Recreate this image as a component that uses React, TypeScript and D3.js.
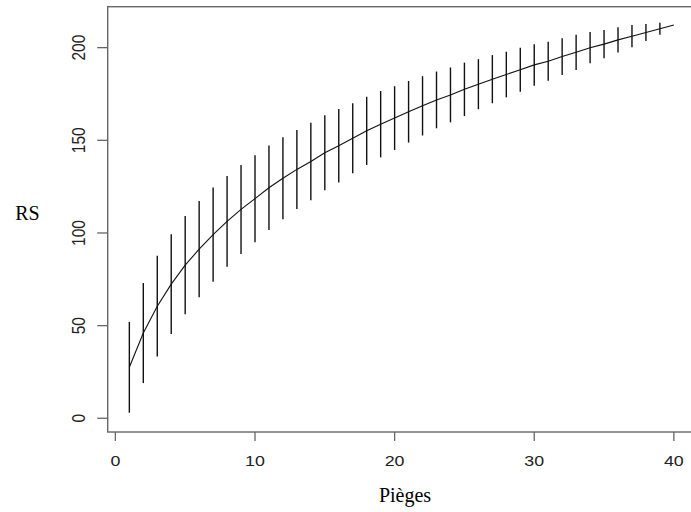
import React from "react";
import * as d3 from "d3";

const traps: number[] = Array.from({ length: 40 }, (_, i) => i + 1);
const richness: number[] = [
  27.5, 46, 60.5, 72.4, 82.6, 91.3, 99.1, 106.3, 112.7, 118.5,
  124.4, 129.5, 134.3, 138.6, 143.3, 147.1, 151.1, 155.1, 158.7, 162,
  165.4, 168.6, 171.8, 174.5, 177.5, 180.3, 183, 185.5, 188.1, 190.7,
  192.7, 195.2, 197.5, 200, 201.9, 204.2, 206.2, 208.2, 210.2, 212.2,
];
const spread: number[] = [
  24.5, 27, 27.2, 26.9, 26.5, 26, 25.4, 24.5, 24, 23.5,
  22.8, 22.1, 21.3, 20.9, 20.2, 19.8, 18.9, 18.4, 17.9, 17.2,
  16.6, 16, 15.3, 14.8, 14.4, 13.5, 13, 12.3, 11.9, 11.2,
  10.5, 9.9, 9.5, 8.4, 7.6, 6.8, 6, 4.6, 3.3, 0,
];
const xTicks: number[] = [0, 10, 20, 30, 40];
const yTicks: number[] = [0, 50, 100, 150, 200];
const xLabel = "Pièges";
const yLabel = "RS";

export default function App() {
  const W = 691;
  const H = 512;
  const x = d3.scaleLinear().domain([-0.55, 41.55]).range([107.7, 695.5]);
  const y = d3.scaleLinear().domain([-7.4, 222.1]).range([432, 6.7]);
  const pts = traps.map((t, i) => [t, richness[i]] as [number, number]);
  const line = d3
    .line<[number, number]>()
    .x((d) => x(d[0]))
    .y((d) => y(d[1]));
  const [x0, x1] = x.range();
  const [yb, yt] = y.range();
  const frame = "#666";
  const sans = "'Liberation Sans', Arial, sans-serif";
  const serif = "'Liberation Serif', 'Times New Roman', serif";
  return (
    <svg
      width={W}
      height={H}
      style={{ position: "absolute", left: 0, top: 0, background: "#fff" }}
    >
      <rect x={0} y={0} width={W} height={H} fill="#fff" />
      {/* frame */}
      <rect x={x0} y={yt} width={x1 - x0} height={yb - yt} fill="none" stroke={frame} strokeWidth={1.4} />
      {/* error bars */}
      {traps.map((t, i) =>
        spread[i] > 0 ? (
          <line
            key={"e" + t}
            x1={x(t)}
            x2={x(t)}
            y1={y(richness[i] - spread[i])}
            y2={y(richness[i] + spread[i])}
            stroke="#111"
            strokeWidth={1.4}
          />
        ) : null
      )}
      <path d={line(pts) || ""} fill="none" stroke="#111" strokeWidth={1.1} />
      {/* x axis */}
      {xTicks.map((t) => (
        <g key={"xt" + t}>
          <line x1={x(t)} x2={x(t)} y1={yb} y2={yb + 9} stroke={frame} strokeWidth={1.3} />
          <text
            transform={`translate(${x(t)},466) scale(1.15,1)`}
            textAnchor="middle"
            fontFamily={sans}
            fontSize={15.5}
            fill="#222"
          >
            {t}
          </text>
        </g>
      ))}
      {/* y axis */}
      {yTicks.map((t) => (
        <g key={"yt" + t}>
          <line x1={x0 - 10.5} x2={x0} y1={y(t)} y2={y(t)} stroke={frame} strokeWidth={1.3} />
          <text
            transform={`translate(85,${y(t)}) scale(1.15,1) rotate(-90)`}
            textAnchor="middle"
            fontFamily={sans}
            fontSize={15.5}
            fill="#222"
          >
            {t}
          </text>
        </g>
      ))}
      <text x={405} y={502} textAnchor="middle" fontFamily={serif} fontSize={20} fill="#000">
        {xLabel}
      </text>
      <text x={27.5} y={220} textAnchor="middle" fontFamily={serif} fontSize={20} fill="#000">
        {yLabel}
      </text>
    </svg>
  );
}
